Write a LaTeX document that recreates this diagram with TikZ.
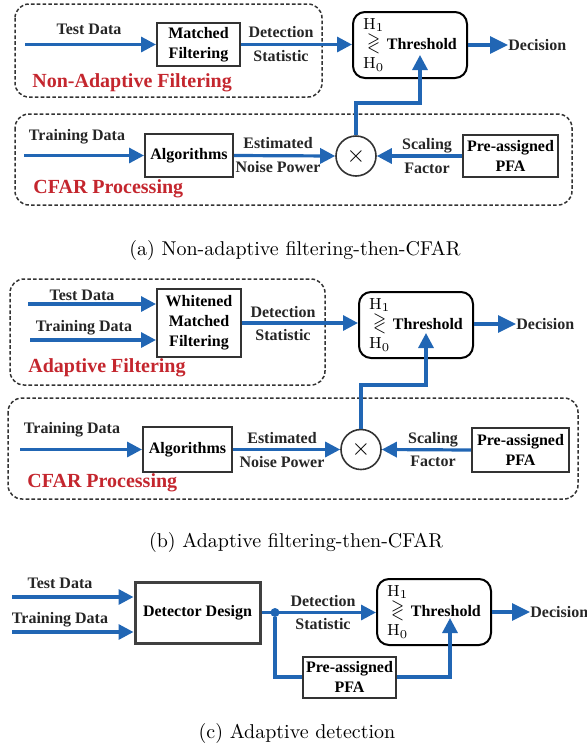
\documentclass[tikz,border=0pt]{standalone}
\usepackage{amsmath,amssymb,graphicx}
\usepackage{fontspec}
\newfontfamily\labfont{Liberation Serif}
\usetikzlibrary{arrows.meta}
\definecolor{flowblue}{RGB}{33,102,180}
\definecolor{titlered}{RGB}{196,38,46}
\newcommand\hypsign{\begin{tabular}{@{}c@{}}\fontsize{8}{8.5}\selectfont$\mathrm{H}_1$\\[-0.5pt]
    \scalebox{1.05}[1.35]{$\gtrless$}\\[0pt]\fontsize{8}{8.5}\selectfont$\mathrm{H}_0$\end{tabular}}

\begin{document}
\begin{tikzpicture}[x=0.5pt, y=-0.5pt,
    box/.style={draw=black!80, line width=1pt, fill=white, align=center, inner sep=1pt,
        font=\labfont\bfseries\fontsize{8}{10}\selectfont},
    thres/.style={box, draw=black, rounded corners=6pt, minimum width=57pt, minimum height=33pt, inner sep=0pt},
    txt/.style={align=center, inner sep=0pt, text=black!85,
        font=\labfont\bfseries\fontsize{8}{11.8}\selectfont},
    grouptitle/.style={anchor=west, inner sep=0pt, text=titlered,
        font=\labfont\bfseries\fontsize{10}{12}\selectfont},
    dashgroup/.style={draw=black!80, line width=0.75pt, dash pattern=on 1.8pt off 1.1pt, rounded corners=7pt},
    flow/.style={draw=flowblue, line width=1.6pt, -{Triangle[length=7.5pt,width=7.5pt]}},
    bigflow/.style={flow, -{Triangle[length=9pt,width=8.5pt]}},
    link/.style={draw=flowblue, line width=1.6pt},
    mult/.style={circle, draw=black!80, line width=0.8pt, fill=white, minimum size=20pt, inner sep=0pt,
        font=\fontsize{12}{12}\selectfont},
    subcap/.style={font=\fontsize{10}{12}\selectfont}]
    \useasboundingbox (0,0) rectangle (587,751);

    % (a) non-adaptive filtering-then-CFAR
    \draw[dashgroup] (15,4) rectangle (322,97);
    \draw[dashgroup] (15,114) rectangle (572,205);
    \node[grouptitle] (nafA) at (32,83) {Non-Adaptive Filtering};
    \node[grouptitle] (cfarA) at (33,189) {CFAR Processing};
    \node[box, minimum width=41.5pt, minimum height=21.5pt] (mfA) at (198.5,44.5) {Matched\\Filtering};
    \node[thres] (thrA) at (410,45) {\hypsign\,Threshold};
    \node[txt, anchor=west] (decA) at (508,45) {Decision};
    \node[box, minimum width=44pt, minimum height=21.5pt] (algA) at (189,155.5) {Algorithms};
    \node[mult] (mulA) at (356,156) {$\times$};
    \node[box, minimum width=47.5pt, minimum height=21pt] (pfaA) at (510.5,156) {Pre-assigned\\PFA};
    \node[txt] (tdlA) at (89,29) {Test Data};
    \node[txt] (dslA) at (281,44) {Detection\\Statistic};
    \node[txt] (trlA) at (77,137) {Training Data};
    \node[txt] (nplA) at (278,155) {Estimated\\Noise Power};
    \node[txt] (sflA) at (427,156) {Scaling\\Factor};
    \node[subcap] (capA) at (295,250) {(a) Non-adaptive filtering-then-CFAR};
    \coordinate (tdA) at (25,44.5);
    \coordinate (trA) at (24,155.5);
    \coordinate (bendA) at (420,103);
    \coordinate (inA) at (420,55);
    \draw[flow] (tdA) -- (mfA.west);
    \draw[flow] (mfA.east) -- (mfA.east -| thrA.west);
    \draw[bigflow] (thrA.east) -- (decA.west);
    \draw[flow] (trA) -- (algA.west);
    \draw[flow] (algA.east) -- (mulA.west);
    \draw[flow] (pfaA.west) -- (mulA.east);
    \draw[flow] (mulA.north) |- (bendA) -- (inA);

    % (b) adaptive filtering-then-CFAR
    \draw[dashgroup] (10,279) rectangle (325,385);
    \draw[dashgroup] (8,398) rectangle (578,499);
    \node[grouptitle] (afB) at (28,368) {Adaptive Filtering};
    \node[grouptitle] (cfarB) at (27,483) {CFAR Processing};
    \node[box, minimum width=42pt, minimum height=34pt] (wmfB) at (199,323) {Whitened\\Matched\\Filtering};
    \node[thres] (thrB) at (416,325) {\hypsign\,Threshold};
    \node[txt, anchor=west] (decB) at (516,324) {Decision};
    \node[box, minimum width=44.5pt, minimum height=22.5pt] (algB) at (187.5,449.5) {Algorithms};
    \node[mult] (mulB) at (361,449.5) {$\times$};
    \node[box, minimum width=48.5pt, minimum height=22pt] (pfaB) at (520.5,450) {Pre-assigned\\PFA};
    \node[txt] (tdlB) at (82,295) {Test Data};
    \node[txt] (trlB) at (84,328) {Training Data};
    \node[txt] (dslB) at (283,323.5) {Detection\\Statistic};
    \node[txt] (trlB2) at (72,430) {Training Data};
    \node[txt] (nplB) at (282,450) {Estimated\\Noise Power};
    \node[txt] (sflB) at (433,449.5) {Scaling\\Factor};
    \node[subcap] (capB) at (296,542) {(b) Adaptive filtering-then-CFAR};
    \coordinate (tdB) at (28,304);
    \coordinate (trB) at (30,340);
    \coordinate (trB2) at (20,449.5);
    \coordinate (bendB) at (426,385);
    \coordinate (inB) at (426,333);
    \draw[flow] (tdB) -- (tdB -| wmfB.west);
    \draw[flow] (trB) -- (trB -| wmfB.west);
    \draw[flow] (wmfB.east) -- (wmfB.east -| thrB.west);
    \draw[bigflow] (thrB.east |- decB) -- (decB.west);
    \draw[flow] (trB2) -- (algB.west);
    \draw[flow] (algB.east) -- (mulB.west);
    \draw[flow] (pfaB.west) -- (mulB.east);
    \draw[flow] (mulB.north) |- (bendB) -- (inB);

    % (c) adaptive detection
    \node[box, draw=black!75, line width=1.5pt, minimum width=62.5pt, minimum height=30.5pt] (ddC) at (197.5,612.5) {Detector Design};
    \node[thres] (thrC) at (434,612) {\hypsign\,Threshold};
    \node[txt, anchor=west] (decC) at (530,612) {Decision};
    \node[box, minimum width=46.5pt, minimum height=20.5pt] (pfaC) at (349.5,677) {Pre-assigned\\PFA};
    \node[circle, fill=flowblue, inner sep=0pt, minimum size=4.5pt] (tapC) at (275,612.5) {};
    \node[txt] (tdlC) at (60,583) {Test Data};
    \node[txt] (trlC) at (60,620) {Training Data};
    \node[txt] (dslC) at (323,612.5) {Detection\\Statistic};
    \node[subcap] (capC) at (297,733) {(c) Adaptive detection};
    \coordinate (tdC) at (12,597);
    \coordinate (trC) at (12,632);
    \coordinate (inC) at (450,618);
    \draw[flow] (tdC) -- (tdC -| ddC.west);
    \draw[flow] (trC) -- (trC -| ddC.west);
    \draw[flow] (ddC.east) -- (ddC.east -| thrC.west);
    \draw[link] (tapC) |- (pfaC.west);
    \draw[flow] (pfaC.east) -| (inC);
    \draw[bigflow] (thrC.east) -- (decC.west);
\end{tikzpicture}
\end{document}
